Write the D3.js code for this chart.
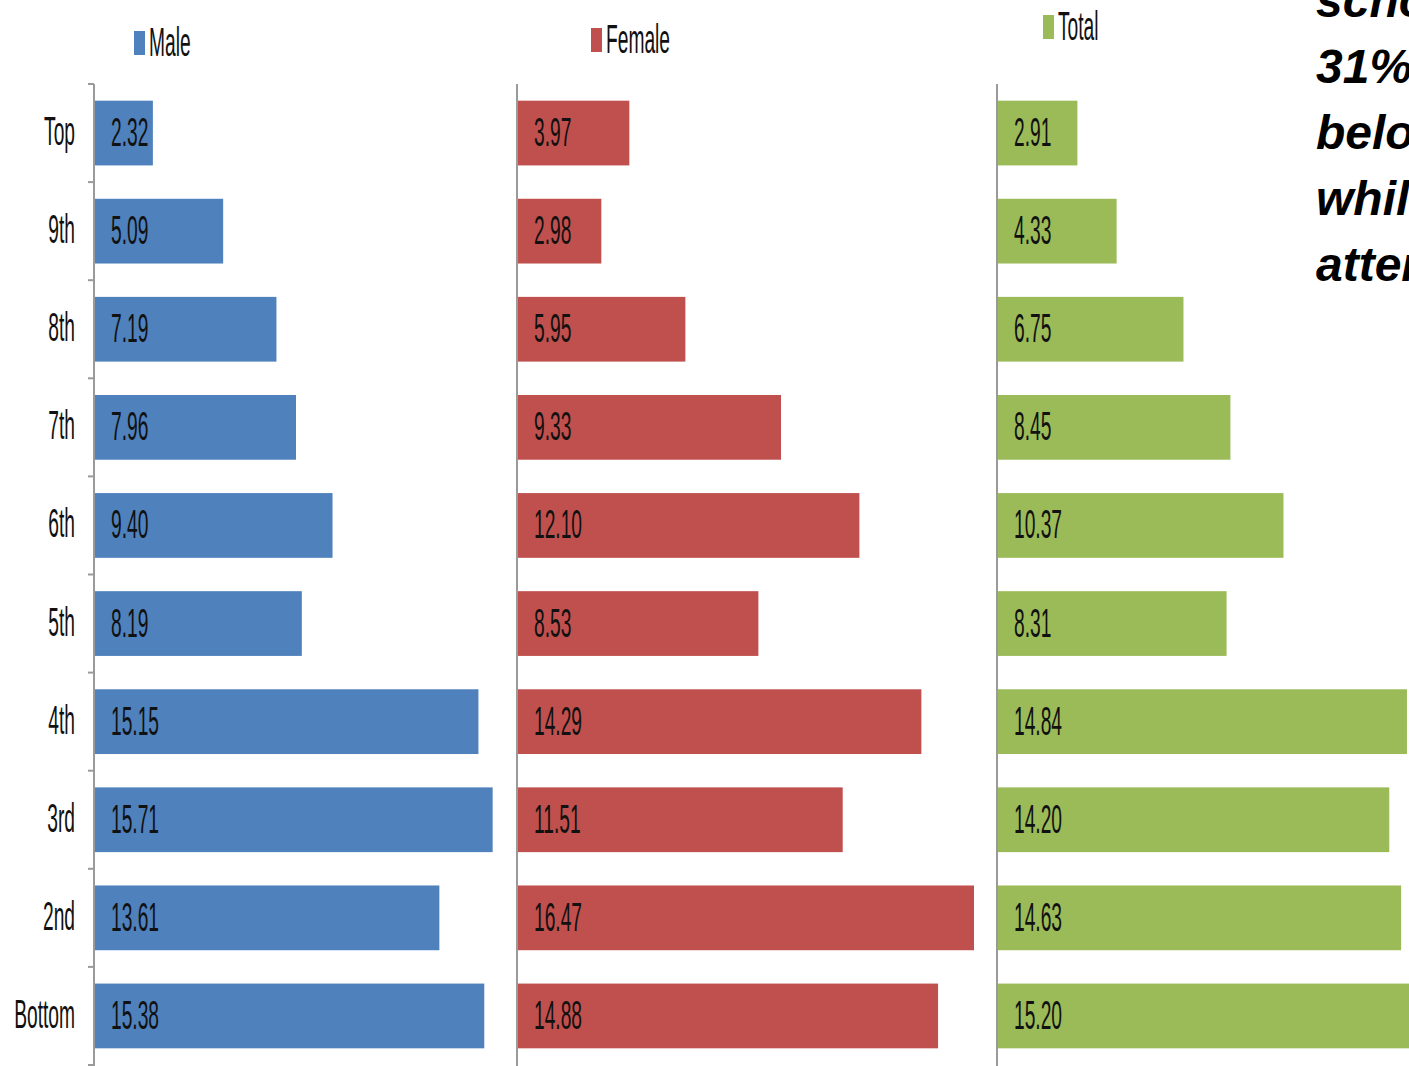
<!DOCTYPE html>
<html>
<head>
<meta charset="utf-8">
<script src="https://cdn.jsdelivr.net/npm/d3@7"></script>
<style>
    body { margin: 0; background: #fff; overflow: hidden; }
    svg { display: block; }
    .cond { font-family: "Liberation Sans", Arial, sans-serif; fill: #111; }
    .note { font-family: "Liberation Sans", Arial, sans-serif; font-weight: bold; font-style: italic; font-size: 48px; fill: #000; }
</style>
</head>
<body>
<div id="chart"></div>
<script>
// Data.
const categories = ["Top", "9th", "8th", "7th", "6th", "5th", "4th", "3rd", "2nd", "Bottom"];
const male = [2.32, 5.09, 7.19, 7.96, 9.40, 8.19, 15.15, 15.71, 13.61, 15.38];
const female = [3.97, 2.98, 5.95, 9.33, 12.10, 8.53, 14.29, 11.51, 16.47, 14.88];
const total = [2.91, 4.33, 6.75, 8.45, 10.37, 8.31, 14.84, 14.20, 14.63, 15.20];
const noteLines = ["school", "31%", "below", "while", "attend"];

const width = 1409;
const height = 1066;
const squeeze = 0.48; // the source picture is squashed horizontally

// One panel per series: left edge, plot width, axis max, legend spot.
const panels = [
    { name: "Male", values: male, color: "#4F81BD", left: 94, width: 406, max: 16, legend: [134, 56], ticks: true },
    { name: "Female", values: female, color: "#C0504D", left: 517, width: 457, max: 16.15, legend: [591, 53], ticks: false },
    { name: "Total", values: total, color: "#9BBB59", left: 997, width: 442, max: 16, legend: [1043, 40], ticks: false }
];

const svg = d3.select("#chart").append("svg")
    .attr("width", width)
    .attr("height", height);

// Shared band scale for the categories.
const y = d3.scaleBand()
    .domain(categories)
    .range([84, 1065])
    .paddingInner(0.34)
    .paddingOuter(0.17);

// Category labels on the left.
svg.append("g")
    .selectAll("text")
    .data(categories)
    .join("text")
    .attr("class", "cond")
    .attr("font-size", 40)
    .attr("text-anchor", "end")
    .attr("transform", d => `translate(75, ${y(d) + y.bandwidth() / 2 + 12}) scale(${squeeze}, 1)`)
    .text(d => d);

panels.forEach(p => {
    const x = d3.scaleLinear()
        .domain([0, p.max])
        .range([0, p.width])
        .clamp(true);

    const g = svg.append("g")
        .attr("transform", `translate(${p.left}, 0)`);

    // Bars.
    g.selectAll("rect")
        .data(p.values)
        .join("rect")
        .attr("x", 0)
        .attr("y", (d, i) => y(categories[i]))
        .attr("height", y.bandwidth())
        .attr("width", d => x(d))
        .attr("fill", p.color);

    // Value labels inside bars.
    g.selectAll("text.value")
        .data(p.values)
        .join("text")
        .attr("class", "value cond")
        .attr("font-size", 40)
        .attr("transform", (d, i) => `translate(17, ${y(categories[i]) + y.bandwidth() / 2 + 13}) scale(${squeeze}, 1)`)
        .text(d => d.toFixed(2));

    // Axis line.
    g.append("line")
        .attr("x1", 0).attr("x2", 0)
        .attr("y1", 84).attr("y2", height)
        .attr("stroke", "#9a9a9a")
        .attr("stroke-width", 2);

    // Tick marks between categories (only on the first panel).
    if (p.ticks) {
        const gap = y.step() * y.paddingInner() / 2;
        const bounds = categories.map(c => y(c) - gap).concat([y(categories[categories.length - 1]) + y.bandwidth() + gap]);
        g.selectAll("line.tick")
            .data(bounds)
            .join("line")
            .attr("class", "tick")
            .attr("x1", -6).attr("x2", 0)
            .attr("y1", d => d).attr("y2", d => d)
            .attr("stroke", "#9a9a9a")
            .attr("stroke-width", 2);
    }

    // Legend.
    const lg = svg.append("g")
        .attr("transform", `translate(${p.legend[0]}, ${p.legend[1]})`);
    lg.append("rect")
        .attr("x", 0).attr("y", -25)
        .attr("width", 11).attr("height", 24)
        .attr("fill", p.color);
    lg.append("text")
        .attr("class", "cond")
        .attr("font-size", 40)
        .attr("transform", `translate(15, 0) scale(${squeeze}, 1)`)
        .text(p.name);
});

// Note running off the right edge, as in the source.
svg.append("g")
    .selectAll("text")
    .data(noteLines)
    .join("text")
    .attr("class", "note")
    .attr("x", 1316)
    .attr("y", (d, i) => 17 + i * 66)
    .text(d => d);
</script>
</body>
</html>
